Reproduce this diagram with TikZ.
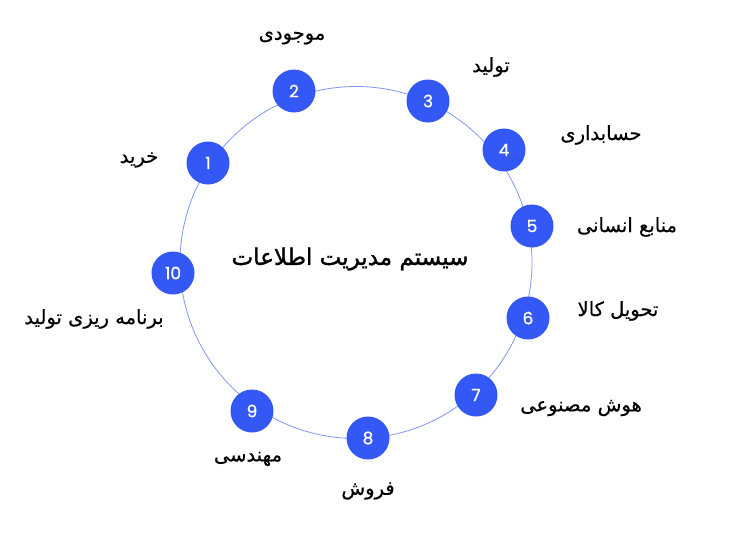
\documentclass[tikz,border=0pt]{standalone}
\usepackage{fontspec}
\newfontfamily\fafont[Script=Arabic, FakeBold=0.5]{DejaVu Sans}
\newfontfamily\titlefont[Script=Arabic, FakeBold=1.4]{DejaVu Sans}
\newfontfamily\numfont[FakeBold=0.8]{Poppins}
\TeXXeTstate=1
\definecolor{dotblue}{HTML}{3358F5}
\definecolor{ringblue}{HTML}{7F97F8}

\begin{document}
\begin{tikzpicture}[
    x=1pt, y=-1pt,
    dot/.style={circle, fill=dotblue, minimum size=43pt, inner sep=0pt, text=white, font=\numfont\fontsize{17}{17}\selectfont},
    lbl/.style={inner sep=0pt, font=\fafont\fontsize{19.5}{22}\selectfont},
    title/.style={inner sep=0pt, font=\titlefont\fontsize{23}{26}\selectfont},
    ring/.style={ringblue, line width=0.8pt}
]
    \useasboundingbox (0,0) rectangle (750,538);
    \coordinate (c) at (356,262.5);
    \draw[ring] (c) circle (176);

    % steps round the ring
    \node[dot] (n1) at (208,163) {1};
    \node[dot] (n2) at (294,91) {2};
    \node[dot] (n3) at (428,101) {3};
    \node[dot] (n4) at (504,150) {4};
    \node[dot] (n5) at (532,226) {5};
    \node[dot] (n6) at (528,318) {6};
    \node[dot] (n7) at (476,395) {7};
    \node[dot] (n8) at (368,438) {8};
    \node[dot] (n9) at (252,411) {9};
    \node[dot] (n10) at (173,273) {10};

    % labels
    \node[lbl] (l1) at (139,160) {\beginR خرید\endR};
    \node[lbl] (l2) at (292,38) {\beginR موجودی\endR};
    \node[lbl] (l3) at (491,67) {\beginR تولید\endR};
    \node[lbl] (l4) at (601,135) {\beginR حسابداری\endR};
    \node[lbl] (l5) at (627,227) {\beginR منابع انسانی\endR};
    \node[lbl] (l6) at (618,311) {\beginR تحویل کالا\endR};
    \node[lbl] (l7) at (581,408) {\beginR هوش مصنوعی\endR};
    \node[lbl] (l8) at (368,491) {\beginR فروش\endR};
    \node[lbl] (l9) at (248,459) {\beginR مهندسی\endR};
    \node[lbl] (l10) at (94,319) {\beginR برنامه ریزی تولید\endR};

    \node[title] (t) at (350,259) {\beginR سیستم مدیریت اطلاعات\endR};
\end{tikzpicture}
\end{document}
